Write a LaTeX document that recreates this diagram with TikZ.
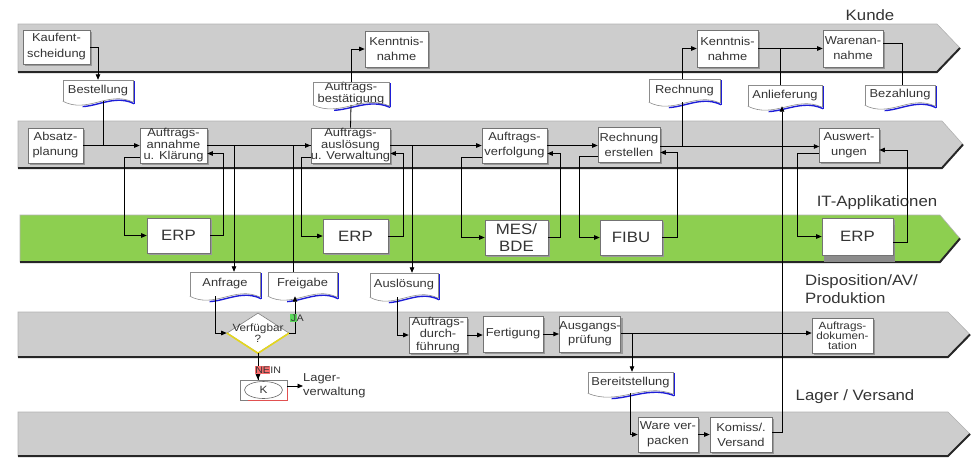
\documentclass[tikz,border=0pt]{standalone}
\usepackage{fontspec}
\setmainfont{Liberation Sans}[FakeStretch=1.12]
\usetikzlibrary{arrows.meta,calc,shadows,shapes.geometric}

\definecolor{lanegray}{RGB}{205,205,205}
\definecolor{itgreen}{RGB}{141,207,80}
\definecolor{docblue}{RGB}{30,30,215}
\definecolor{textgray}{RGB}{52,52,52}
\definecolor{jagreen}{RGB}{90,215,90}
\definecolor{neinred}{RGB}{250,110,110}
\definecolor{kred}{RGB}{225,80,80}
\definecolor{diayellow}{RGB}{228,214,30}

% one swim lane: left x, top y, bottom y, x where the point starts, x of the tip, fill
\newcommand\swimlane[6]{%
  \path[fill=#6, draw=black!30, line width=.6pt]
    (#1,#2) -- (#4,#2) -- (#5,{(#2+#3)/2}) -- (#4,#3) -- (#1,#3) -- cycle;
  \draw[laneedge] (#1,#3) -- (#4,#3) -- (#5,{(#2+#3)/2});
}

\begin{document}
\begin{tikzpicture}[x=1pt,y=-1pt,
  laneedge/.style={draw=black!85, line width=2pt, line join=miter},
  box/.style={draw=black!55, fill=white, line width=.6pt, inner sep=0pt,
    align=center, text=textgray, font=\fontsize{11.5}{15}\selectfont,
    drop shadow={shadow xshift=2pt, shadow yshift=-2pt, fill=black!40, opacity=1}},
  tight/.style={font=\fontsize{11.5}{11.5}\selectfont},
  erp/.style={box, font=\fontsize{15}{17}\selectfont},
  doc/.style={inner sep=0pt, align=center, text=textgray, font=\fontsize{11.5}{10}\selectfont},
  docedge/.style={draw=black!45, line width=.6pt},
  docblue/.style={draw=docblue, line width=1.4pt},
  lanelabel/.style={text=textgray, inner sep=0pt, font=\fontsize{15}{18}\selectfont},
  line/.style={draw=black, line width=.8pt},
  arr/.style={line, -{Triangle[length=5.5pt,width=4.5pt]}},
  small/.style={inner sep=0pt, text=textgray, font=\fontsize{9.5}{10}\selectfont}]

\useasboundingbox (0,0) rectangle (971,458);

% lanes
\swimlane{18}{24}{72}{937}{960}{lanegray}
\swimlane{18}{121}{168}{942}{963}{lanegray}
\swimlane{20}{215}{262}{940}{960}{itgreen}
\swimlane{18}{312}{357}{948}{970}{lanegray}
\swimlane{18}{412}{456}{948}{970}{lanegray}

% lane titles
\node[lanelabel] (lblkunde) at (870,15) {Kunde};
\node[lanelabel] (lblit) at (877,203) {IT-Applikationen};
\node[lanelabel, anchor=west, align=left] (lbldispo) at (805,289) {Disposition/AV/\\Produktion};
\node[lanelabel] (lbllager) at (855,397) {Lager / Versand};

% customer lane
\node[box, minimum width=67, minimum height=34, font=\fontsize{11.5}{16}\selectfont] (kauf) at (56.5,47) {Kaufent-\\scheidung};
\node[box, minimum width=63, minimum height=36] (kenn1) at (396.5,49) {Kenntnis-\\nahme};
\node[box, minimum width=61, minimum height=37] (kenn2) at (727.5,48.5) {Kenntnis-\\nahme};
\node[box, minimum width=60, minimum height=37] (waren) at (853,48.5) {Warenan-\\nahme};

% sales lane
\node[box, minimum width=55, minimum height=35] (absatz) at (55.5,145.5) {Absatz-\\planung};
\node[box, tight, minimum width=67, minimum height=35] (annahme) at (173.5,145.5) {Auftrags-\\annahme\\u. Klärung};
\node[box, tight, minimum width=77, minimum height=35] (ausl) at (350.5,145.5) {Auftrags-\\auslösung\\u. Verwaltung};
\node[box, minimum width=65, minimum height=35] (verf) at (514.5,145.5) {Auftrags-\\verfolgung};
\node[box, minimum width=62, minimum height=35] (rechn) at (629,144.5) {Rechnung\\erstellen};
\node[box, minimum width=60, minimum height=34] (ausw) at (849,145) {Auswert-\\ungen};

% IT applications
\node[erp, minimum width=63, minimum height=35] (erp1) at (178.5,235.5) {ERP};
\node[erp, minimum width=65, minimum height=34] (erp2) at (355.5,236) {ERP};
\node[erp, minimum width=63, minimum height=35] (mes) at (516.5,237.5) {MES/\\BDE};
\node[erp, minimum width=62, minimum height=35] (fibu) at (631,237.5) {FIBU};
\node[erp, minimum width=71, minimum height=37,
  drop shadow={shadow xshift=2pt, shadow yshift=-7pt, fill=black!45, opacity=1}] (erp3) at (857.5,236.5) {ERP};

% production lane
\node[diamond, draw=black!50, fill=white, line width=.6pt, minimum width=62, minimum height=40,
  inner sep=0pt, align=center, text=textgray, font=\fontsize{10.5}{9}\selectfont] (vf) at (258,333) {\makebox[0pt]{Verfügbar}\\?};
\draw[diayellow, line width=1.6pt] (vf.west) -- (vf.south) -- (vf.east);
\node[box, font=\fontsize{11.5}{12.5}\selectfont, minimum width=58, minimum height=36] (durch) at (438,335) {Auftrags-\\durch-\\führung};
\node[box, minimum width=60, minimum height=36] (fert) at (513,334) {Fertigung};
\node[box, font=\fontsize{11.5}{14}\selectfont, minimum width=60, minimum height=36] (ausg) at (590,334) {Ausgangs-\\prüfung};
\node[box, font=\fontsize{10.5}{10}\selectfont, minimum width=61, minimum height=35] (doku) at (842.5,335.5) {Auftrags-\\dokumen-\\tation};

% connector to stock handling
\node[draw=black!50, fill=white, line width=.6pt, minimum width=47, minimum height=20, inner sep=0pt] (k) at (263.5,390) {};
\draw[kred, line width=.9pt] ([xshift=8pt]k.south west) -- (k.south east) -- ([yshift=-8pt]k.north east);
\node[ellipse, draw=black!60, line width=.6pt, minimum width=38, minimum height=17, inner sep=0pt,
  text=textgray, font=\fontsize{10.5}{10}\selectfont] (kell) at (k) {K};
\node[anchor=west, align=left, inner sep=0pt, text=textgray, font=\fontsize{11.5}{14}\selectfont] (lagerv) at (303,386) {Lager-\\verwaltung};

% warehouse lane
\node[box, minimum width=60, minimum height=35] (ware) at (668,434.5) {Ware ver-\\packen};
\node[box, minimum width=62, minimum height=35] (komiss) at (741,434.5) {Komiss/.\\Versand};

% documents
\node[doc, minimum width=70, minimum height=21] (best) at (98,90.5) {Bestellung};
\node[doc, minimum width=76, minimum height=21] (abest) at (351,93.5) {Auftrags-\\bestätigung};
\node[doc, minimum width=71, minimum height=23] (rechdoc) at (684.5,90.5) {Rechnung};
\node[doc, minimum width=74, minimum height=21] (anl) at (785,95.5) {Anlieferung};
\node[doc, minimum width=70, minimum height=20] (bez) at (900,95) {Bezahlung};
\node[doc, minimum width=70, minimum height=24] (anfr) at (225,284) {Anfrage};
\node[doc, minimum width=69, minimum height=24] (freig) at (302.5,284) {Freigabe};
\node[doc, minimum width=68, minimum height=24] (ausdoc) at (404,285) {Auslösung};
\node[doc, minimum width=85, minimum height=21] (bereit) at (630.5,382.5) {Bereitstellung};

\foreach \d in {best,abest,rechdoc,anl,bez,anfr,freig,ausdoc,bereit}{
  \draw[docedge] (\d.south west) -- (\d.north west) -- (\d.north east) -- ($(\d.south east)+(0,1)$);
  \draw[docedge] (\d.south west)
    .. controls ($(\d.south west)!0.35!(\d.south east)+(0,13)$)
    and ($(\d.south west)!0.65!(\d.south east)+(0,-11)$) .. ($(\d.south east)+(0,1)$);
  \begin{scope}
    \clip ($(\d.south west)!0.28!(\d.south east)+(0,-30)$) rectangle ($(\d.south east)+(6,20)$);
    \draw[docblue] ($(\d.south west)+(1,1.5)$)
      .. controls ($(\d.south west)!0.35!(\d.south east)+(1,14.5)$)
      and ($(\d.south west)!0.65!(\d.south east)+(1,-9.5)$) .. ($(\d.south east)+(1,2.5)$);
  \end{scope}
  \draw[docblue] ($(\d.north east)+(1,1)$) -- ($(\d.south east)+(1,2.5)$);
}

% helper points for offset connector ends
\coordinate (anltop) at ([xshift=-5pt]anl.north);
\coordinate (kout) at ([yshift=4pt]k.east);

% customer and sales flow
\draw[arr] (kauf.east) -| (best.north);
\draw[line] ([xshift=5pt]best.south) -- ([xshift=5pt]best.south |- absatz.east);
\draw[arr] (absatz.east) -- (annahme.west);
\draw[arr] ([yshift=-11.5pt]annahme.west) -- ++(-15,0) |- (erp1.west);
\draw[arr] (erp1.east) -- ++(13,0) |- ([yshift=-8pt]annahme.east);
\draw[arr] (annahme.east) -- (ausl.west);
\draw[arr] (annahme.east) -| ([xshift=9pt]anfr.north);
\draw[line] ([xshift=-9.5pt]freig.north) |- (ausl.west);
\draw[line] (ausl.north) -- (abest.south);
\draw[arr] (abest.north) |- (kenn1.west);
\draw[arr] ([yshift=-11.5pt]ausl.west) -- ++(-9,0) |- (erp2.west);
\draw[arr] (erp2.east) -- ++(15,0) |- ([yshift=-8pt]ausl.east);
\draw[arr] (ausl.east) -- (verf.west);
\draw[arr] (ausl.east) -| ([xshift=8pt]ausdoc.north);
\draw[arr] ([yshift=-11.5pt]verf.west) -- ++(-20,0) |- (mes.west);
\draw[arr] (mes.east) -- ++(12,0) |- ([yshift=-8pt]verf.east);
\draw[arr] (verf.east) -- (verf.east -| rechn.west);
\draw[arr] ([yshift=-11.5pt]rechn.west) -- ++(-18,0) |- (fibu.west);
\draw[arr] (fibu.east) -- ++(15,0) |- ([yshift=-8pt]rechn.east);
\draw[arr] ([yshift=-2pt]rechn.east) -- ++(159,0);
\draw[line] ([yshift=-2pt]rechn.east) -| ([xshift=-2.5pt]rechdoc.south);
\draw[arr] ([xshift=-2.5pt]rechdoc.north) |- (kenn2.west);
\draw[arr] (kenn2.east) -- (waren.west);
\draw[line] (anltop) -- (anltop |- kenn2.east);
\draw[line] ([yshift=5.5pt]waren.east) -| ([xshift=2pt]bez.north);
\draw[arr] ([yshift=-8pt]ausw.west) -- ++(-21,0) |- (erp3.west);
\draw[arr] ([yshift=-5.5pt]erp3.east) -- ++(14,0) |- ([yshift=-5pt]ausw.east);

% production flow
\draw[arr] ([xshift=-10pt]anfr.south) |- (vf.west);
\draw[arr] (vf.east) -| ([xshift=-7.5pt]freig.south);
\draw[arr] (vf.south) -- (vf.south |- k.north);
\draw[arr] (kout) -- (kout -| lagerv.west);
\draw[arr] ([xshift=-7pt]ausdoc.south) |- (durch.west);
\draw[arr] (durch.east) -- (durch.east -| fert.west);
\draw[arr] (fert.east) -- (ausg.west);
\draw[arr] ([yshift=1pt]ausg.east) -- ([yshift=1pt]ausg.east -| doku.west);
\draw[arr] ([yshift=1pt]ausg.east) -| ([xshift=1.5pt]bereit.north);
\draw[arr] (bereit.south) |- (ware.west);
\draw[arr] (ware.east) -- (komiss.west);
\draw[arr] ([yshift=2.5pt]komiss.east) -| ([xshift=-3pt]anl.south);

% decision labels
\node[small] (ja) at (297,318) {\setlength\fboxsep{.4pt}\colorbox{jagreen}{J}A};
\node[small] (nein) at (268,370) {\setlength\fboxsep{.4pt}\colorbox{neinred}{NE}IN};
\draw[line] (vf.south |- nein.south) -- (vf.south |- k.north);
\end{tikzpicture}
\end{document}
